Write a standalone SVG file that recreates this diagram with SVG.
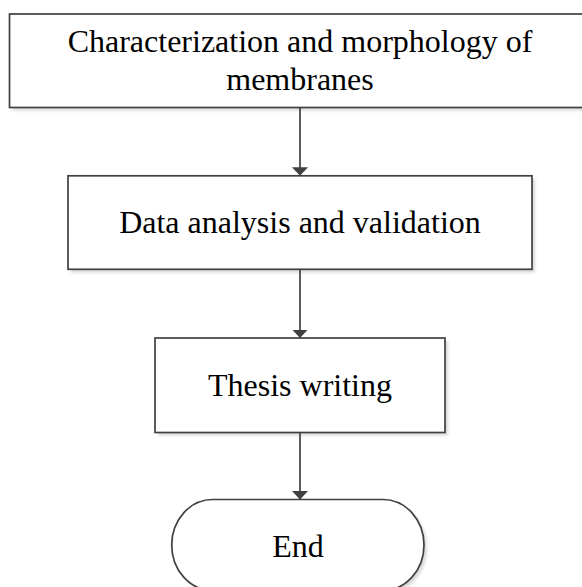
<svg xmlns="http://www.w3.org/2000/svg" width="582" height="587" viewBox="0 0 582 587">
  <defs>
    <filter id="shadow" x="-10%" y="-10%" width="130%" height="140%">
      <feGaussianBlur stdDeviation="1.5"/>
    </filter>
    <marker id="arrow" markerWidth="8.5" markerHeight="16" refX="8.5" refY="8" orient="auto" markerUnits="userSpaceOnUse">
      <path d="M0,0 L8.5,8 L0,16 Z" fill="#404040"/>
    </marker>
  </defs>
  <style>
    .box { fill: #ffffff; stroke: #404040; stroke-width: 1.7; }
    .sh { fill: #d8d8d8; filter: url(#shadow); }
    .lbl { font-family: "Liberation Serif", "Times New Roman", serif; font-size: 32px; fill: #000000; text-anchor: middle; }
    .conn { stroke: #404040; stroke-width: 1.7; fill: none; marker-end: url(#arrow); }
  </style>
  <rect width="582" height="587" fill="#ffffff"/>

  <g id="node-characterization">
    <rect class="sh" x="12.5" y="17" width="581" height="93.5"/>
    <rect class="box" x="9.5" y="14" width="581" height="93.5"/>
    <text class="lbl" x="300" y="52">Characterization and morphology of</text>
    <text class="lbl" x="300" y="89.5">membranes</text>
  </g>

  <g id="node-data-analysis">
    <rect class="sh" x="71" y="179" width="464" height="93.5"/>
    <rect class="box" x="68" y="175.8" width="464" height="93.5"/>
    <text class="lbl" x="300" y="233.3">Data analysis and validation</text>
  </g>

  <g id="node-thesis">
    <rect class="sh" x="158" y="341" width="290" height="94.5"/>
    <rect class="box" x="155" y="338" width="290" height="94.5"/>
    <text class="lbl" x="300" y="396.3">Thesis writing</text>
  </g>

  <g id="node-end">
    <rect class="sh" x="174.7" y="502.5" width="252.3" height="91" rx="41" ry="45.5"/>
    <rect class="box" x="171.7" y="499.5" width="252.3" height="91" rx="41" ry="45.5"/>
    <text class="lbl" x="298" y="556.7">End</text>
  </g>

  <g id="connectors">
    <line class="conn" x1="300" y1="107.5" x2="300" y2="175.8"/>
    <line class="conn" x1="300" y1="269.3" x2="300" y2="338"/>
    <line class="conn" x1="300" y1="432.5" x2="300" y2="499.5"/>
  </g>
</svg>
